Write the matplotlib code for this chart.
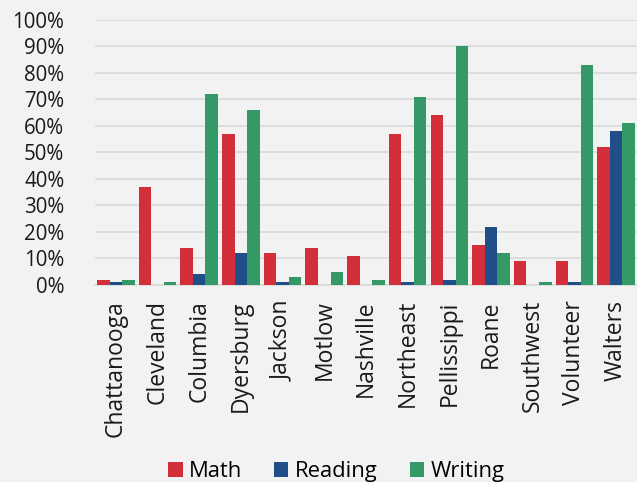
import numpy as np
import matplotlib.pyplot as plt
from matplotlib.ticker import PercentFormatter

plt.rcParams['font.family'] = ['Open Sans', 'DejaVu Sans']

colleges = ['Chattanooga', 'Cleveland', 'Columbia', 'Dyersburg', 'Jackson', 'Motlow',
            'Nashville', 'Northeast', 'Pellissippi', 'Roane', 'Southwest', 'Volunteer', 'Walters']
math = [2, 37, 14, 57, 12, 14, 11, 57, 64, 15, 9, 9, 52]
reading = [1, 0, 4, 12, 1, 0, 0, 1, 2, 22, 0, 1, 58]
writing = [2, 1, 72, 66, 3, 5, 2, 71, 90, 12, 1, 83, 61]

bg = '#f2f2f2'
fig = plt.figure(figsize=(6.37, 4.82), dpi=100, facecolor=bg)
ax = fig.add_axes([0.149, 0.409, 0.851, 0.5495], facecolor=bg)

x = np.arange(len(colleges))
w = 0.3
ax.bar(x - w, math, w, color='#d32f3a', label='Math', zorder=3)
ax.bar(x, reading, w, color='#1f4e89', label='Reading', zorder=3)
ax.bar(x + w, writing, w, color='#339966', label='Writing', zorder=3)

ax.set_ylim(0, 100)
ax.set_xlim(-0.5, len(colleges) - 0.5)
ax.set_yticks(np.arange(0, 101, 10))
ax.yaxis.set_major_formatter(PercentFormatter(decimals=0))
ax.grid(axis='y', color='#d9d9d9', linewidth=1.2, zorder=0)
ax.set_xticks(x)
ax.set_xticklabels(colleges, rotation=90)
ax.tick_params(axis='both', length=0, colors='#1a1a1a')
ax.tick_params(axis='y', pad=22, labelsize=14.8)
ax.tick_params(axis='x', pad=11, labelsize=16.5)
for s in ['top', 'right', 'left']:
    ax.spines[s].set_visible(False)
ax.spines['bottom'].set_color('#d9d9d9')
ax.spines['bottom'].set_linewidth(1.2)

fig.legend(loc='lower center', ncol=3, frameon=False, fontsize=15.8,
           bbox_to_anchor=(0.528, -0.042), handlelength=0.65, handleheight=0.65,
           columnspacing=1.45, handletextpad=0.3)

plt.savefig('out.png', dpi=100, facecolor=bg)
